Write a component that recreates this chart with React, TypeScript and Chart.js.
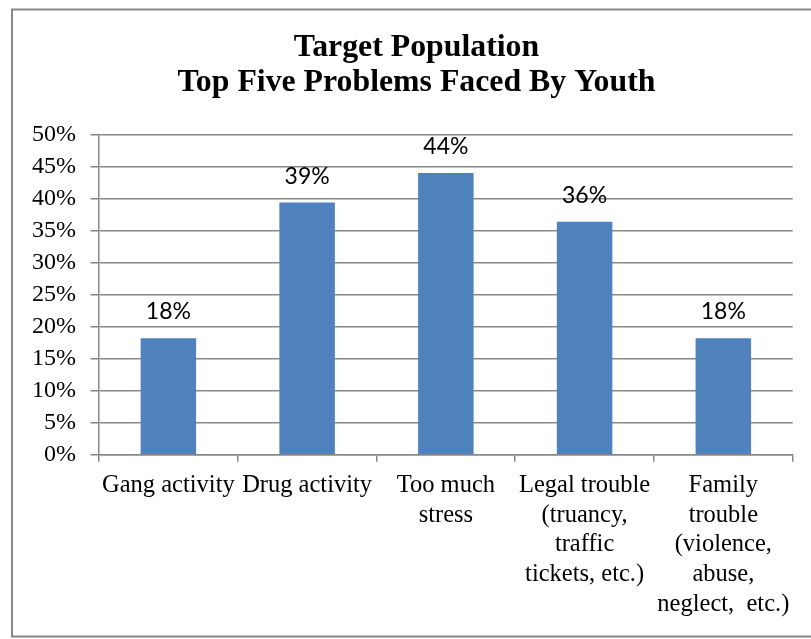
import React, { useEffect, useRef } from "react";
import { Chart, registerables } from "chart.js";

Chart.register(...registerables);

const titleLines = ["Target Population", "Top Five Problems Faced By Youth"];
const categories: string[][] = [
  ["Gang activity"],
  ["Drug activity"],
  ["Too much", "stress"],
  ["Legal trouble", "(truancy,", "traffic", "tickets, etc.)"],
  ["Family", "trouble", "(violence,", "abuse,", "neglect,  etc.)"],
];
const values = [18.2, 39.4, 44.0, 36.4, 18.2];
const yMin = 0;
const yMax = 50;
const yStep = 5;

const SERIF = "'Liberation Serif', 'Times New Roman', serif";
const SANS = "Lato, 'Liberation Sans', sans-serif";
const GRID = "#878787";

const frame = {
  id: "frame",
  beforeDraw(chart: any) {
    const ctx = chart.ctx;
    ctx.save();
    ctx.fillStyle = "#ffffff";
    ctx.fillRect(0, 0, chart.width, chart.height);
    ctx.strokeStyle = GRID;
    ctx.lineWidth = 2;
    ctx.strokeRect(12, 9.5, 812, 627);
    ctx.restore();
  },
  afterLayout(chart: any) {
    // centre the title on the full (cropped) chart object, as in the source
    if (chart.titleBlock) {
      chart.titleBlock.left = 22;
      chart.titleBlock.right = chart.width;
    }
  },
};

const dataLabels = {
  id: "dataLabels",
  afterDatasetsDraw(chart: any) {
    const ctx = chart.ctx;
    const meta = chart.getDatasetMeta(0);
    const data = chart.data.datasets[0].data as number[];
    ctx.save();
    ctx.font = `23px ${SANS}`;
    ctx.fillStyle = "#000000";
    ctx.textAlign = "center";
    ctx.textBaseline = "alphabetic";
    meta.data.forEach((bar: any, i: number) => {
      ctx.fillText(`${Math.round(data[i])}%`, bar.x, bar.y - 19);
    });
    ctx.restore();
  },
};

export default function App() {
  const ref = useRef<HTMLCanvasElement | null>(null);
  useEffect(() => {
    if (!ref.current) return;
    const chart = new Chart(ref.current, {
      type: "bar",
      data: {
        labels: categories,
        datasets: [
          {
            data: values,
            backgroundColor: "#4F81BD",
            borderWidth: 0,
            barPercentage: 0.4,
            categoryPercentage: 1,
          },
        ],
      },
      options: {
        animation: false,
        responsive: true,
        maintainAspectRatio: false,
        layout: { padding: { left: 0, right: 18.3, top: 0, bottom: 0 } },
        plugins: {
          legend: { display: false },
          tooltip: { enabled: false },
          title: {
            display: true,
            text: titleLines,
            color: "#000000",
            font: { family: SERIF, size: 31.8, weight: "bold", lineHeight: 1.1 },
            padding: { top: 30, bottom: 34.7 },
          },
        },
        scales: {
          x: {
            grid: {
              display: true,
              offset: true,
              drawOnChartArea: false,
              drawTicks: true,
              tickLength: 7,
              color: GRID,
              lineWidth: 1.5,
            },
            border: { display: true, color: GRID, width: 1.5 },
            ticks: {
              autoSkip: false,
              maxRotation: 0,
              minRotation: 0,
              padding: 9,
              color: "#000000",
              font: { family: SERIF, size: 24.5, lineHeight: 1.21 },
            },
            afterFit(scale: any) {
              scale.height = 639 - 454.7;
            },
          },
          y: {
            min: yMin,
            max: yMax,
            grid: {
              display: true,
              drawOnChartArea: true,
              drawTicks: true,
              tickLength: 8.6,
              color: GRID,
              lineWidth: 1.5,
            },
            border: { display: true, color: GRID, width: 1.5 },
            ticks: {
              stepSize: yStep,
              padding: 14.5,
              color: "#000000",
              font: { family: SERIF, size: 24 },
              callback: (v: any) => `${v}%`,
            },
            afterFit(scale: any) {
              scale.width = 99;
            },
          },
        },
      },
      plugins: [frame, dataLabels],
    });
    return () => chart.destroy();
  }, []);
  return (
    <div style={{ position: "absolute", left: 0, top: 0, width: 811, height: 639, background: "#fff" }}>
      <canvas ref={ref} />
    </div>
  );
}
